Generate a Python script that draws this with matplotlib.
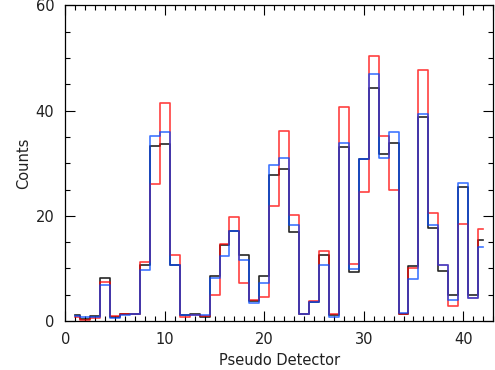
import matplotlib
matplotlib.use("Agg")
import matplotlib.pyplot as plt
import numpy as np
from matplotlib.ticker import MultipleLocator

detectors = list(range(1, 43))
counts_black = [1.2, 0.4, 0.95, 8.2, 0.75, 1.4, 1.4, 10.6, 33.3, 33.6,
                10.6, 1.2, 1.4, 0.75, 8.65, 14.4, 17.2, 12.5, 3.8, 8.5,
                27.7, 28.9, 16.9, 1.3, 3.7, 12.5, 1.26, 33.1, 9.3, 30.8,
                44.3, 31.7, 33.9, 1.45, 10.4, 38.7, 17.7, 9.5, 5.05, 25.4,
                4.9, 15.5]
counts_red = [0.8, 0.3, 0.6, 7.4, 0.9, 1.3, 1.45, 11.2, 26.1, 41.5,
              12.5, 0.8, 1.2, 1.0, 4.9, 14.6, 19.7, 7.2, 4.0, 4.6,
              21.8, 36.1, 20.1, 1.4, 3.9, 13.3, 1.4, 40.7, 10.9, 24.5,
              50.4, 35.2, 24.9, 1.3, 10.1, 47.7, 20.6, 10.6, 2.8, 18.4,
              4.4, 17.5]
counts_blue = [1.0, 0.7, 0.75, 6.9, 0.6, 1.1, 1.4, 9.8, 35.2, 36.0,
               10.6, 1.2, 1.2, 1.1, 8.2, 12.3, 17.2, 11.7, 3.5, 7.3,
               29.6, 30.9, 18.2, 1.3, 3.6, 10.6, 0.8, 33.9, 9.9, 30.8,
               47.0, 30.9, 36.0, 1.55, 8.0, 39.3, 18.2, 10.6, 4.0, 26.3,
               4.4, 14.1]

x_ticks = [0, 10, 20, 30, 40]
y_ticks = [0, 20, 40, 60]

plt.rcParams['font.family'] = ['DejaVu Sans']
fig = plt.figure(figsize=(4.95, 3.7), dpi=100)
ax = fig.add_axes([0.132, 0.132, 0.864, 0.854])

ax.step(detectors, counts_black, where='mid', color='black', lw=1.2, alpha=0.85)
ax.step(detectors, counts_red, where='mid', color='#ff0000', lw=1.2, alpha=0.75)
ax.step(detectors, counts_blue, where='mid', color='#0048ff', lw=1.2, alpha=0.75)

ax.set_xlim(0, 43)
ax.set_ylim(0, 60)
ax.set_xticks(x_ticks)
ax.set_yticks(y_ticks)
ax.xaxis.set_minor_locator(MultipleLocator(1))
ax.yaxis.set_minor_locator(MultipleLocator(5))
ax.tick_params(which='both', direction='in', top=True, right=True,
               labelsize=10.5, width=0.8, labelcolor='#202020')
ax.tick_params(which='major', length=7, pad=8)
ax.tick_params(which='minor', length=3.5)
for s in ax.spines.values():
    s.set_linewidth(0.9)

ax.set_xlabel('Pseudo Detector', fontsize=10.5, labelpad=4, color='#202020')
ax.set_ylabel('Counts', fontsize=10.5, labelpad=3, color='#202020')

fig.savefig('out.png', dpi=100)
